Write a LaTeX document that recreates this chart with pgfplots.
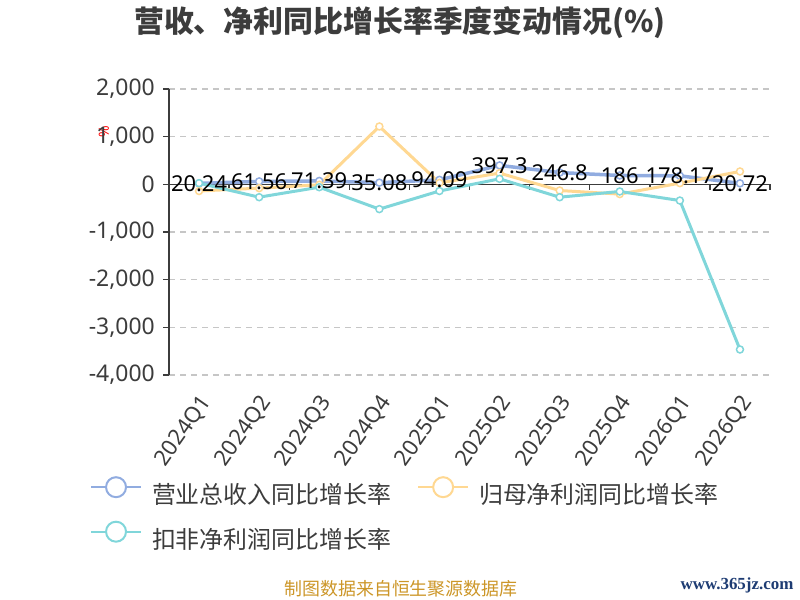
\documentclass[border=0pt]{standalone}
\usepackage{fontspec}
\setmainfont{Noto Sans}
\newfontfamily\cjk{Noto Sans CJK SC}
\newfontfamily\wmfont{Liberation Serif}
\usepackage{pgfplots}
\pgfplotsset{compat=1.18}
\definecolor{cblue}{RGB}{145,172,224}
\definecolor{corange}{RGB}{255,216,146}
\definecolor{cteal}{RGB}{128,214,218}
\definecolor{txt}{RGB}{60,60,60}
\definecolor{gold}{RGB}{204,150,40}
\definecolor{navy}{RGB}{30,60,115}
\begin{document}
\begin{tikzpicture}[x=1bp,y=1bp]
\path[use as bounding box] (0,0) rectangle (800,600);
\node[font=\cjk\bfseries\fontsize{30}{32}\selectfont, text=txt] at (400,577) {营收、净利同比增长率季度变动情况(\%)};
\node[font=\fontsize{14}{16}\selectfont, text=red, rotate=90] at (104,468) {\%};
\node[font=\cjk\fontsize{18}{20}\selectfont, text=gold] at (401,11) {制图数据来自恒生聚源数据库};
\node[font=\wmfont\bfseries\fontsize{17}{19}\selectfont, text=navy] at (737,15) {www.365jz.com};
\begin{axis}[
  at={(169bp,225bp)}, anchor=south west,
  scale only axis, width=601bp, height=286bp,
  xmin=-0.5, xmax=9.5, ymin=-4000, ymax=2000,
  axis y line*=left, axis x line*=bottom,
  x axis line style={draw=none},
  xtick={0,...,9},
  xticklabels={2024Q1,2024Q2,2024Q3,2024Q4,2025Q1,2025Q2,2025Q3,2025Q4,2026Q1,2026Q2},
  xtick style={draw=none},
  x tick label style={rotate=55, anchor=east, font=\fontsize{22}{24}\selectfont, text=txt, inner sep=0pt, xshift=-10bp, yshift=-16bp},
  ytick={-4000,-3000,-2000,-1000,0,1000,2000},
  y tick label style={font=\fontsize{23}{25}\selectfont, text=txt, inner sep=0pt, xshift=-8bp},
  /pgf/number format/assume math mode=true,
  /pgf/number format/1000 sep={,},
  ymajorgrids, grid style={dash pattern=on 6bp off 5bp, gray!45, line width=1.2bp},
  y axis line style={draw=txt, line width=1.4bp},
  ytick style={draw=txt, line width=1.4bp},
  tick align=outside, major tick length=6bp,
  clip=false,
  legend style={at={(rel axis cs:-0.1314,-0.4867)}, anchor=west, draw=none, fill=none,
    inner sep=0pt, outer sep=0pt, row sep=13bp, column sep=10bp,
    font=\cjk\fontsize{24}{26}\selectfont, text=txt,
    nodes={inner sep=0pt, text height=20bp, text depth=4bp},
    /tikz/every even column/.append style={column sep=26bp}},
  legend columns=2,
  legend cell align=left,
]
\draw[txt, line width=1.4bp] (axis cs:-0.5,0) -- (axis cs:9.5,0);
\pgfplotsinvokeforeach{0.5,1.5,2.5,3.5,4.5,5.5,6.5,7.5,8.5,9.5}{
  \draw[txt, line width=1.4bp] (axis cs:#1,0) -- ([yshift=-6bp]axis cs:#1,0);
}
\addplot[cblue, line width=3.5bp, mark=*, mark size=3.5bp, mark options={fill=white, line width=1.5bp},
  legend image code/.code={\draw[cblue, line width=2bp] (0bp,8.5bp) -- (50bp,8.5bp);
    \draw[cblue, fill=white, line width=2bp] (25bp,8.5bp) circle (10bp);}]
  coordinates {(0,20.24)(1,61.56)(2,71.39)(3,35.08)(4,94.09)(5,397.3)(6,246.8)(7,186)(8,178.17)(9,20.72)};
\addlegendentry{营业总收入同比增长率}
\addplot[corange, line width=3bp, mark=*, mark size=3.5bp, mark options={fill=white, line width=1.5bp},
  legend image code/.code={\draw[corange, line width=2bp] (0bp,8.5bp) -- (50bp,8.5bp);
    \draw[corange, fill=white, line width=2bp] (25bp,8.5bp) circle (10bp);}]
  coordinates {(0,-140)(1,-80)(2,-10)(3,1214)(4,30)(5,235)(6,-130)(7,-205)(8,25)(9,270)};
\addlegendentry{归母净利润同比增长率}
\addplot[cteal, line width=3bp, mark=*, mark size=3.5bp, mark options={fill=white, line width=1.5bp},
  legend image code/.code={\draw[cteal, line width=2bp] (0bp,8.5bp) -- (50bp,8.5bp);
    \draw[cteal, fill=white, line width=2bp] (25bp,8.5bp) circle (10bp);}]
  coordinates {(0,25)(1,-270)(2,-60)(3,-520)(4,-140)(5,115)(6,-270)(7,-150)(8,-340)(9,-3465)};
\addlegendentry{扣非净利润同比增长率}
\addplot[draw=none, mark=none, forget plot, nodes near coords, point meta=explicit symbolic,
  nodes near coords style={font=\fontsize{22}{24}\selectfont, text=black, anchor=center, inner sep=0pt}]
  table[meta=label] {
x y label
0 20.24 20.24
1 61.56 61.56
2 71.39 71.39
3 35.08 35.08
4 94.09 94.09
5 397.3 397.3
6 246.8 246.8
7 186 186
8 178.17 178.17
9 20.72 20.72
};
\end{axis}
\end{tikzpicture}
\end{document}
